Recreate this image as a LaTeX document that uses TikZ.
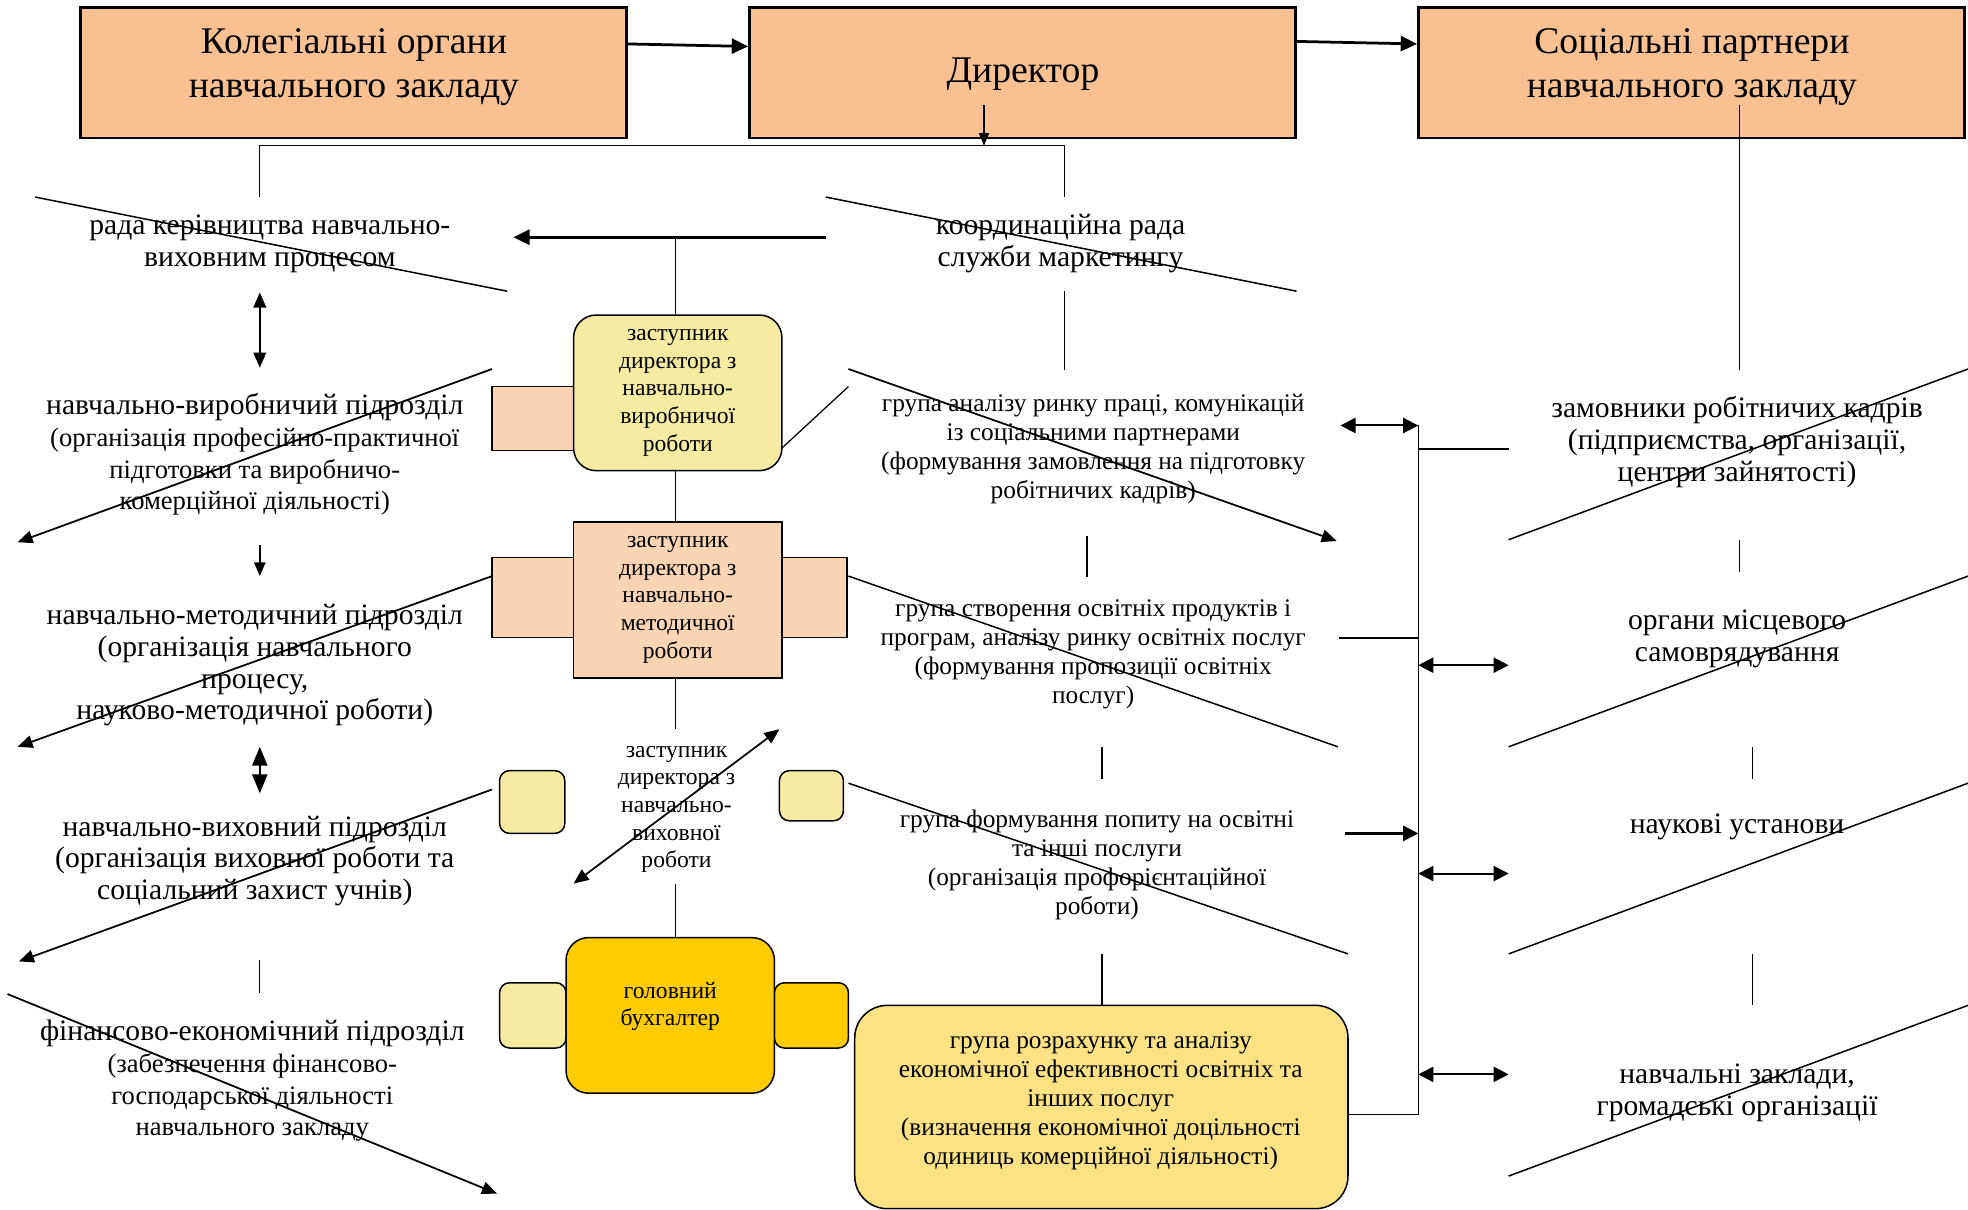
\documentclass[tikz,border=0pt]{standalone}
\usepackage{fontspec}
\setmainfont{Liberation Serif}
\usetikzlibrary{arrows.meta}

\definecolor{peach}{HTML}{F9C191}
\definecolor{tabpeach}{HTML}{FAD5B5}
\definecolor{paleyellow}{HTML}{F7EAA2}
\definecolor{gold}{HTML}{FFCC00}
\definecolor{lightgold}{HTML}{FBE285}

\newcommand{\unitsub}{\fontsize{10.6}{12.6}\selectfont}

\begin{document}
\begin{tikzpicture}[
    x=0.5pt, y=-0.5pt,
    every node/.style={inner sep=0pt},
    topbox/.style={draw, line width=1pt, fill=peach, minimum width=217.5pt, minimum height=52pt},
    toptext/.style={font=\fontsize{15}{17.5}\selectfont, align=center},
    unittext/.style={font=\fontsize{11.8}{12.7}\selectfont, align=center},
    grouptext/.style={font=\fontsize{10.1}{11.6}\selectfont, align=center},
    deputy/.style={draw, line width=0.6pt, minimum width=83pt, minimum height=62pt,
        font=\fontsize{9.4}{11}\selectfont, align=center},
    tab/.style={draw, line width=0.6pt},
    thin/.style={line width=0.5pt},
    thickarrow/.style={line width=1.1pt, -{Triangle[length=6.5pt,width=6pt]}},
    diagarrow/.style={line width=0.7pt, -{Triangle[length=6pt,width=5pt]}},
    busarrow/.style={line width=0.8pt, {Triangle[length=6pt,width=6pt]}-{Triangle[length=6pt,width=6pt]}},
    vertarrow/.style={line width=0.7pt, -{Triangle[length=5.5pt,width=4.5pt]}}
]
\useasboundingbox (0,0) rectangle (1568,964);

% Top level
\node[topbox] (kolegia) at (281.5,58) {};
\node[topbox] (dyrektor) at (814.5,58) {};
\node[topbox] (partnery) at (1347.5,58) {};
\node[toptext] (kolegiatxt) at (282,53.5) {Колегіальні органи\\навчального закладу};
\node[toptext] (dyrektortxt) at (815,59) {Директор};
\node[toptext] (partnerytxt) at (1348,53.5) {Соціальні партнери\\навчального закладу};

\draw[thickarrow] ([yshift=11.5pt]kolegia.east) -- ([yshift=10.5pt]dyrektor.west);
\draw[thickarrow] ([yshift=12.5pt]dyrektor.east) -- ([yshift=11.5pt]partnery.west);

% Director branch
\coordinate (dirout) at (784,84);
\coordinate (dirin) at (784,116);
\coordinate (branchL) at (207,157);
\coordinate (branchR) at (848,157);
\draw[line width=0.6pt, -{Triangle[length=5pt,width=4pt]}] (dirout) -- (dirin);
\draw[thin] (branchL) |- (dirin) -| (branchR);

% Left column
\node[unittext] (rada) at (215,194) {рада керівництва навчально-\\виховним процесом};
\node[unittext] (vyrobn) at (203,362) {навчально-виробничий підрозділ\\\unitsub(організація професійно-практичної\\\unitsub підготовки та виробничо-\\\unitsub комерційної діяльності)};
\node[unittext] (metod) at (203,530) {навчально-методичний підрозділ\\(організація навчального\\процесу,\\науково-методичної роботи)};
\node[unittext] (vykhov) at (203,686) {навчально-виховний підрозділ\\(організація виховної роботи та\\соціальний захист учнів)};
\node[unittext] (finans) at (201,861) {фінансово-економічний підрозділ\\\unitsub(забезпечення фінансово-\\\unitsub господарської діяльності\\\unitsub навчального закладу};

\draw[line width=0.8pt, {Triangle[length=6pt,width=5pt]}-{Triangle[length=6pt,width=5pt]}] (207,233) -- (207,293);
\draw[vertarrow] (207,434) -- (207,459);
\draw[line width=0.8pt, {Triangle[length=7.5pt,width=6pt]}-{Triangle[length=7.5pt,width=6pt]}] (207,595) -- (207,632);
\draw[thin] (207,765) -- (207,791);

% Centre column
\node[tab, fill=tabpeach, minimum width=32.5pt, minimum height=25.5pt] (vyrtab) at (424.5,333.5) {};
\node[deputy, fill=paleyellow, rounded corners=9pt] (zastvyr) at (540,313) {заступник\\директора з\\навчально-\\виробничої\\роботи};
\node[tab, fill=tabpeach, minimum width=32.5pt, minimum height=32pt] (mettabL) at (424.5,476) {};
\node[tab, fill=tabpeach, minimum width=26pt, minimum height=32pt] (mettabR) at (649,476) {};
\node[deputy, fill=tabpeach] (zastmet) at (540,478) {заступник\\директора з\\навчально-\\методичної\\роботи};
\node[font=\fontsize{9.4}{11}\selectfont, align=center] (zastvykh) at (539,645) {заступник\\директора з\\навчально-\\виховної\\роботи};
\node[tab, fill=paleyellow, rounded corners=4pt, minimum width=26pt, minimum height=25pt] (vykhtabL) at (424,639) {};
\node[tab, fill=paleyellow, rounded corners=4pt, minimum width=25.5pt, minimum height=20pt] (vykhtabR) at (646.5,634) {};
\node[tab, fill=paleyellow, rounded corners=4pt, minimum width=26.5pt, minimum height=26pt] (bukhtabL) at (424.5,809) {};
\node[tab, fill=gold, rounded corners=4pt, minimum width=29.5pt, minimum height=26pt] (bukhtabR) at (646.5,809) {};
\node[deputy, fill=gold, rounded corners=9pt] (bukh) at (534,809) {};
\node[font=\fontsize{9.4}{11}\selectfont, align=center] (bukhtxt) at (534,802) {головний\\бухгалтер};

\coordinate (radajoin) at (538,189);
\coordinate (metout) at (538,581);
\coordinate (vykhout) at (538,704);
\draw[thickarrow] (658,189) -- (409,189);
\draw[thin] (radajoin) -- (radajoin |- zastvyr.north);
\draw[thin] (radajoin |- zastvyr.south) -- (radajoin |- zastmet.north);
\draw[thin] (metout |- zastmet.south) -- (metout);
\draw[thin] (vykhout) -- (vykhout |- bukh.north);
\draw[thin] (623,357) -- (676,308);
\draw[line width=0.7pt, {Triangle[length=6pt,width=5pt]}-{Triangle[length=6pt,width=5pt]}] (457,704) -- (621,581);

% Marketing column
\node[unittext] (koord) at (845,194) {координаційна рада\\служби маркетингу};
\node[grouptext] (grupa1) at (871,358) {група аналізу ринку праці, комунікацій\\із соціальними партнерами\\(формування замовлення на підготовку\\робітничих кадрів)};
\node[grouptext] (grupa2) at (871,521.5) {група створення освітніх продуктів і\\програм, аналізу ринку освітніх послуг\\(формування пропозиції освітніх\\послуг)};
\node[grouptext] (grupa3) at (874,689) {група формування попиту на освітні\\та інші послуги\\(організація профорієнтаційної\\роботи)};
\node[draw, line width=0.6pt, fill=lightgold, rounded corners=13pt, minimum width=196.5pt, minimum height=81pt] (grupa4) at (877.5,882) {};
\node[grouptext] (grupa4txt) at (877,877) {група розрахунку та аналізу\\економічної ефективності освітніх та\\інших послуг\\(визначення економічної доцільності\\одиниць комерційної діяльності)};

\foreach \x/\ya/\yb in {848/232/295, 866/427/460, 878/595/621, 878/760/801, 1386/430/456, 1396/595/621, 1396/760/801}
    \draw[thin] (\x,\ya) -- (\x,\yb);

% Partners bus
\coordinate (partout) at (1386,84);
\coordinate (bustop) at (1130,339);
\coordinate (busbot) at (1130,888);
\draw[thin] (partout) -- (1386,295);
\draw[line width=0.6pt] (bustop) -- (busbot) -- (grupa4.east |- busbot);
\draw[busarrow] (1068,339) -- (bustop);
\draw[line width=0.8pt] (1130,358) -- (1202,358);
\draw[line width=0.8pt] (1067,508) -- (1130,508);
\draw[busarrow] (1130,530) -- (1202,530);
\draw[line width=1pt, -{Triangle[length=6pt,width=6pt]}] (1072,664) -- (1130,664);
\draw[busarrow] (1130,696) -- (1202,696);
\draw[busarrow] (1130,856) -- (1202,856);

% Partners column
\node[unittext] (zamovn) at (1384,352) {замовники робітничих кадрів\\(підприємства, організації,\\центри зайнятості)};
\node[unittext] (organy) at (1384,509) {органи місцевого\\самоврядування};
\node[unittext] (naukovi) at (1384,659) {наукові установи};
\node[unittext] (zaklady) at (1384,871) {навчальні заклади,\\громадські організації};

% Crossing lines
\foreach \xa/\ya/\xb/\yb in {28/157/404/232, 658/157/1033/232, 676/459/1066/595, 676/624/1074/760,
    1202/430/1568/294, 1202/595/1568/459, 1202/760/1568/624, 1202/937/1568/801}
    \draw[line width=0.6pt] (\xa,\ya) -- (\xb,\yb);
\foreach \xa/\ya/\xb/\yb in {392/294/14/432, 392/459/14/595, 392/629/15/766, 6/792/396/951, 676/294/1065/431}
    \draw[diagarrow] (\xa,\ya) -- (\xb,\yb);

\end{tikzpicture}
\end{document}
